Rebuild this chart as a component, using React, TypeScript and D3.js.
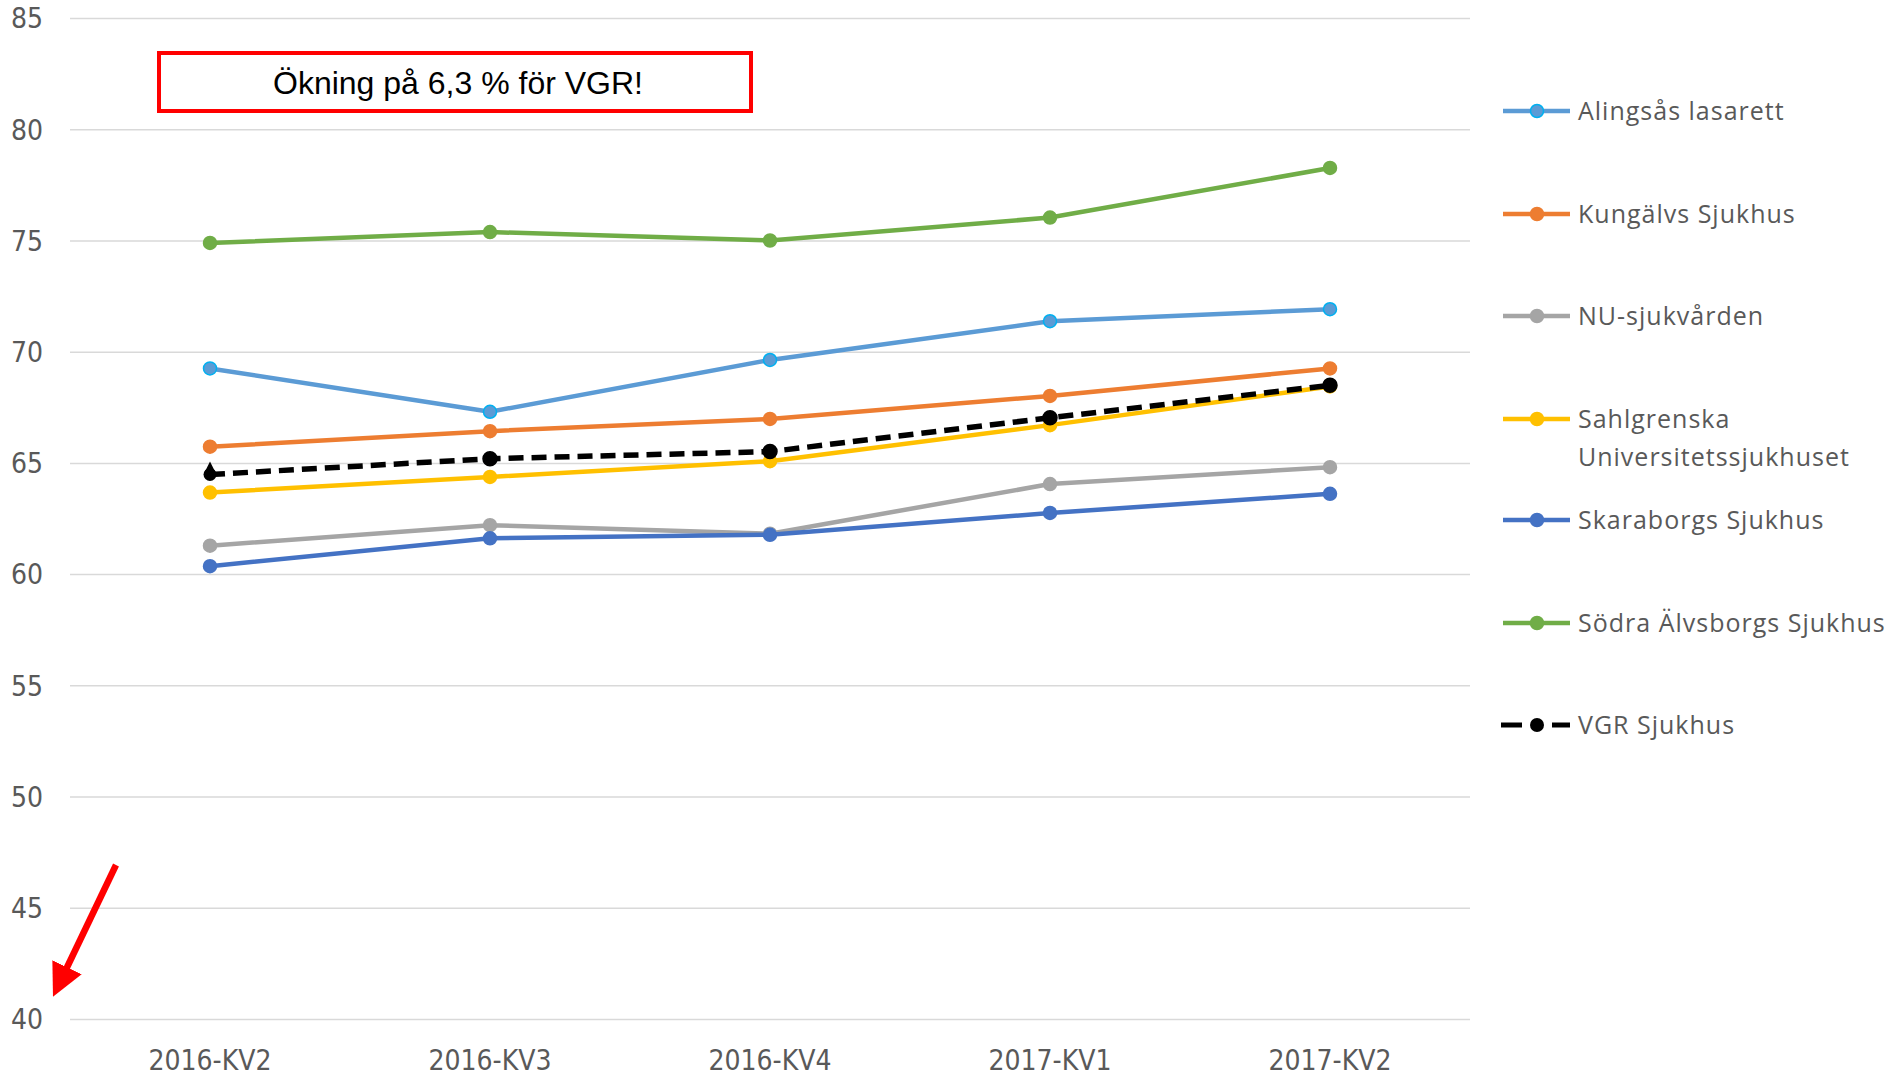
import React, { useEffect } from "react";
import * as d3 from "d3";

const categories = ["2016-KV2", "2016-KV3", "2016-KV4", "2017-KV1", "2017-KV2"];
const yTicks = [40, 45, 50, 55, 60, 65, 70, 75, 80, 85];

const alingsas = [69.27, 67.32, 69.65, 71.39, 71.93];
const kungalv = [65.75, 66.45, 67.0, 68.03, 69.27];
const nu = [61.3, 62.22, 61.84, 64.07, 64.83];
const sahlgrenska = [63.69, 64.39, 65.1, 66.72, 68.46];
const skaraborg = [60.38, 61.63, 61.79, 62.77, 63.63];
const sodra = [74.91, 75.4, 75.02, 76.05, 78.28];
const vgr = [64.5, 65.21, 65.53, 67.05, 68.51];

const series = [
  { name: ["Alingsås lasarett"], values: alingsas, color: "#5B9BD5", marker: "#5B9BD5", markerStroke: "#00B0F0", dashed: false },
  { name: ["Kungälvs Sjukhus"], values: kungalv, color: "#ED7D31", marker: "#ED7D31", markerStroke: "#ED7D31", dashed: false },
  { name: ["NU-sjukvården"], values: nu, color: "#A5A5A5", marker: "#A5A5A5", markerStroke: "#A5A5A5", dashed: false },
  { name: ["Sahlgrenska", "Universitetssjukhuset"], values: sahlgrenska, color: "#FFC000", marker: "#FFC000", markerStroke: "#FFC000", dashed: false },
  { name: ["Skaraborgs Sjukhus"], values: skaraborg, color: "#4472C4", marker: "#4472C4", markerStroke: "#4472C4", dashed: false },
  { name: ["Södra Älvsborgs Sjukhus"], values: sodra, color: "#70AD47", marker: "#70AD47", markerStroke: "#70AD47", dashed: false },
  { name: ["VGR Sjukhus"], values: vgr, color: "#000000", marker: "#000000", markerStroke: "#000000", dashed: true },
];

const legendY = [111, 214, 316, 419, 520, 623, 725];

export default function App() {
  useEffect(() => {
    document.body.style.margin = "0";
  }, []);

  const width = 1893;
  const height = 1078;
  const x = d3.scaleBand().domain(categories).range([70, 1470]);
  const y = d3.scaleLinear().domain([40, 85]).range([1019.5, 18.5]);
  const cx = (c: string) => (x(c) as number) + x.bandwidth() / 2;

  const line = d3
    .line<number>()
    .x((_, i) => cx(categories[i]))
    .y((d) => y(d));

  const tickFont = "'Liberation Sans Narrow', 'DejaVu Sans Condensed', Arial, sans-serif";
  const legendFont = "'Open Sans', 'Noto Sans', sans-serif";

  return (
    <svg width={width} height={height} style={{ display: "block", background: "#fff" }}>
      {/* grid + y labels */}
      {yTicks.map((t) => (
        <g key={t}>
          <line x1={70} x2={1470} y1={y(t)} y2={y(t)} stroke="#D9D9D9" strokeWidth={1.5} />
          <text x={27} y={y(t)} dy="0.35em" textAnchor="middle" fontFamily={tickFont} fontSize={28} fill="#595959">
            {t}
          </text>
        </g>
      ))}
      {/* x labels */}
      {categories.map((c) => (
        <text key={c} x={cx(c)} y={1070} textAnchor="middle" fontFamily={tickFont} fontSize={28} fill="#595959">
          {c}
        </text>
      ))}
      {/* lines */}
      {series.map((s) => (
        <g key={s.name[0]}>
          <path
            d={line(s.values) as string}
            fill="none"
            stroke={s.color}
            strokeWidth={s.dashed ? 5.5 : 4.5}
            strokeDasharray={s.dashed ? "15 8" : undefined}
            strokeLinejoin="round"
          />
          {s.values.map((v, i) =>
            s.dashed && i === 0 ? (
              <g key={i}>
                <circle cx={cx(categories[i])} cy={y(v)} r={6.5} fill={s.marker} />
                <path
                  d={`M${cx(categories[i]) - 6},${y(v) - 1} L${cx(categories[i])},${y(v) - 13} L${cx(categories[i]) + 6},${y(v) - 1} Z`}
                  fill={s.marker}
                />
              </g>
            ) : (
              <circle
                key={i}
                cx={cx(categories[i])}
                cy={y(v)}
                r={s.dashed ? 7 : 6.5}
                fill={s.marker}
                stroke={s.markerStroke}
                strokeWidth={1.5}
              />
            )
          )}
        </g>
      ))}
      {/* annotation box */}
      <rect x={159} y={53} width={592} height={58} fill="#fff" stroke="#FF0000" strokeWidth={4} />
      <text x={458} y={83} dy="0.35em" textAnchor="middle" fontFamily="'Liberation Sans', Arial, sans-serif" fontSize={32} fill="#000">
        Ökning på 6,3 % för VGR!
      </text>
      {/* red arrow */}
      <defs>
        <marker id="arrowhead" markerWidth="5" markerHeight="5" refX="2.5" refY="2.5" orient="auto" markerUnits="strokeWidth">
          <path d="M0,0 L5,2.5 L0,5 Z" fill="#FF0000" />
        </marker>
      </defs>
      <line x1={116} y1={865} x2={60} y2={982} stroke="#FF0000" strokeWidth={6.5} markerEnd="url(#arrowhead)" />
      {/* legend */}
      {series.map((s, i) => (
        <g key={s.name[0]} transform={`translate(0,${legendY[i]})`}>
          {s.dashed ? (
            <g>
              <line x1={1501} x2={1522} y1={0} y2={0} stroke="#000" strokeWidth={5} />
              <line x1={1552} x2={1570} y1={0} y2={0} stroke="#000" strokeWidth={5} />
              <circle cx={1537} cy={0} r={7} fill="#000" />
            </g>
          ) : (
            <g>
              <line x1={1503} x2={1570} y1={0} y2={0} stroke={s.color} strokeWidth={4.5} />
              <circle cx={1537} cy={0} r={6.5} fill={s.marker} stroke={s.markerStroke} strokeWidth={1.5} />
            </g>
          )}
          {s.name.map((n, j) => (
            <text key={n} x={1578} y={j * 38} dy="0.35em" fontFamily={legendFont} fontSize={25} letterSpacing={1} fill="#595959">
              {n}
            </text>
          ))}
        </g>
      ))}
    </svg>
  );
}
